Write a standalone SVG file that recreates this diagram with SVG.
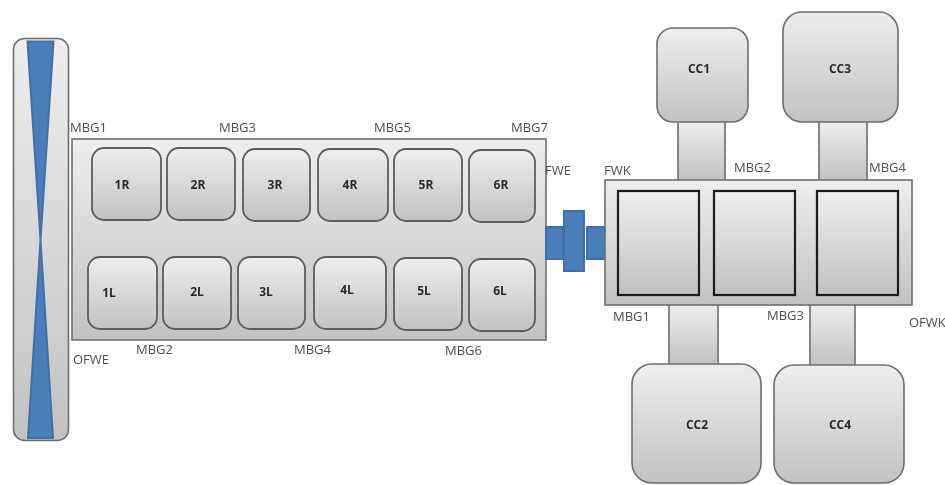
<svg xmlns="http://www.w3.org/2000/svg" width="945" height="485" viewBox="0 0 945 485">
<defs>
<linearGradient id="g" x1="0" y1="0" x2="0" y2="1"><stop offset="0" stop-color="#eeeeee"/><stop offset="1" stop-color="#c2c2c2"/></linearGradient>
<filter id="soft" x="-5%" y="-5%" width="110%" height="110%"><feGaussianBlur stdDeviation="0.7"/></filter>
</defs>
<style>
.s{fill:url(#g);stroke:#6e6e6e;stroke-width:1.6}
.r{fill:url(#g);stroke:#5c5c5c;stroke-width:1.8}
.k{fill:url(#g);stroke:#1c1c1c;stroke-width:2.2}
.b{fill:#4a7ebb;stroke:#3f6fa8;stroke-width:2}
.n{font:bold 12px "Open Sans","Liberation Sans",sans-serif;fill:#2b2b2b;text-anchor:middle}
.l{font:13px "Open Sans","Liberation Sans",sans-serif;fill:#4a4f52}
</style>
<g id="connectors" filter="url(#soft)">
<rect class="s" x="678" y="120" width="47" height="61"/>
<rect class="s" x="819" y="120" width="48" height="61"/>
<rect class="s" x="669" y="304" width="49" height="62"/>
<rect class="s" x="810" y="304" width="45" height="62"/>
</g>
<g id="flywheel-engine" filter="url(#soft)">
<rect class="s" x="13.500" y="38.500" width="55" height="402" rx="11"/>
<path class="b" d="M27.500 41.500H53.500L40.500 240L53 438H28L40.500 240Z"/>
</g>
<g id="engine" filter="url(#soft)">
<rect class="s" x="72" y="139" width="474" height="201"/>
</g>
<g id="shaft" filter="url(#soft)">
<rect class="b" x="546" y="227" width="17" height="32"/>
<rect class="b" x="587" y="227" width="18" height="32"/>
<rect class="b" x="564" y="211" width="20" height="60"/>
</g>
<g id="gearbox" filter="url(#soft)">
<rect class="s" x="605" y="180" width="307" height="125"/>
</g>
<g id="n1R" filter="url(#soft)"><rect class="r" x="92" y="148" width="69" height="72" rx="12"/><text class="n" x="122" y="189">1R</text></g>
<g id="n2R" filter="url(#soft)"><rect class="r" x="167" y="148" width="68" height="72" rx="12"/><text class="n" x="198" y="189">2R</text></g>
<g id="n3R" filter="url(#soft)"><rect class="r" x="243" y="149" width="67" height="72" rx="12"/><text class="n" x="275" y="189">3R</text></g>
<g id="n4R" filter="url(#soft)"><rect class="r" x="318" y="149" width="70" height="72" rx="12"/><text class="n" x="350" y="189">4R</text></g>
<g id="n5R" filter="url(#soft)"><rect class="r" x="394" y="149" width="68" height="72" rx="12"/><text class="n" x="426" y="189">5R</text></g>
<g id="n6R" filter="url(#soft)"><rect class="r" x="469" y="150" width="66" height="72" rx="12"/><text class="n" x="501" y="189">6R</text></g>
<g id="n1L" filter="url(#soft)"><rect class="r" x="88" y="257" width="69" height="72" rx="12"/><text class="n" x="109" y="297">1L</text></g>
<g id="n2L" filter="url(#soft)"><rect class="r" x="163" y="257" width="68" height="72" rx="12"/><text class="n" x="197" y="296">2L</text></g>
<g id="n3L" filter="url(#soft)"><rect class="r" x="238" y="257" width="67" height="72" rx="12"/><text class="n" x="266" y="296">3L</text></g>
<g id="n4L" filter="url(#soft)"><rect class="r" x="314" y="257" width="72" height="72" rx="12"/><text class="n" x="347" y="294">4L</text></g>
<g id="n5L" filter="url(#soft)"><rect class="r" x="394" y="258" width="68" height="72" rx="12"/><text class="n" x="424" y="295">5L</text></g>
<g id="n6L" filter="url(#soft)"><rect class="r" x="469" y="259" width="66" height="72" rx="12"/><text class="n" x="500" y="295">6L</text></g>
<g id="clutch1" filter="url(#soft)"><rect class="k" x="618" y="191" width="81" height="104"/></g>
<g id="clutch2" filter="url(#soft)"><rect class="k" x="714" y="191" width="81" height="104"/></g>
<g id="clutch3" filter="url(#soft)"><rect class="k" x="817" y="191" width="81" height="104"/></g>
<g id="CC1" filter="url(#soft)"><rect class="s" x="657" y="28" width="91" height="94" rx="16"/><text class="n" x="699" y="73">CC1</text></g>
<g id="CC3" filter="url(#soft)"><rect class="s" x="783" y="12" width="115" height="110" rx="19"/><text class="n" x="840" y="73">CC3</text></g>
<g id="CC2" filter="url(#soft)"><rect class="s" x="632" y="364" width="129" height="119" rx="20"/><text class="n" x="697" y="429">CC2</text></g>
<g id="CC4" filter="url(#soft)"><rect class="s" x="774" y="365" width="130" height="118" rx="20"/><text class="n" x="840" y="429">CC4</text></g>
<g id="labels" filter="url(#soft)">
<text class="l" x="70" y="132">MBG1</text>
<text class="l" x="219" y="132">MBG3</text>
<text class="l" x="374" y="132">MBG5</text>
<text class="l" x="511" y="132">MBG7</text>
<text class="l" x="136" y="354">MBG2</text>
<text class="l" x="294" y="354">MBG4</text>
<text class="l" x="445" y="355">MBG6</text>
<text class="l" x="73" y="364">OFWE</text>
<text class="l" x="545" y="175">FWE</text>
<text class="l" x="604" y="175">FWK</text>
<text class="l" x="734" y="172">MBG2</text>
<text class="l" x="869" y="172">MBG4</text>
<text class="l" x="613" y="321">MBG1</text>
<text class="l" x="767" y="320">MBG3</text>
<text class="l" x="909" y="327">OFWK</text>
</g>
</svg>
